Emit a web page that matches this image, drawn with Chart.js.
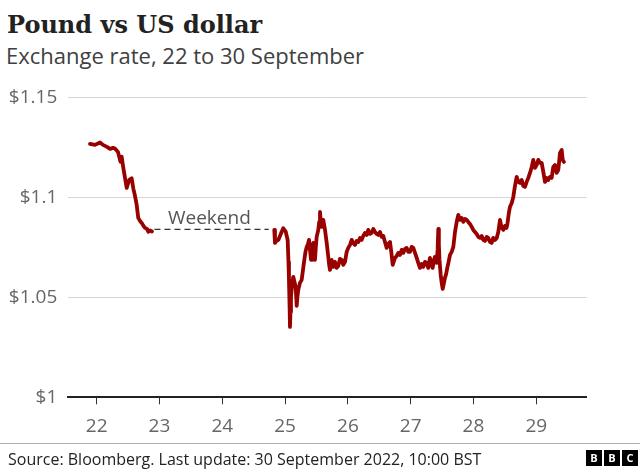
<!DOCTYPE html>
<html>
<head>
<meta charset="utf-8">
<script src="https://cdn.jsdelivr.net/npm/chart.js@4/dist/chart.umd.min.js"></script>
<style>
  html, body { margin: 0; padding: 0; background: #fff; }
  body { width: 640px; height: 470px; position: relative; overflow: hidden; }
  #title { position: absolute; left: 7px; top: 10px; font: bold 24px/30px "DejaVu Serif", serif; color: #222; white-space: nowrap; }
  #subtitle { position: absolute; left: 6px; top: 40px; font: 22px/30px "Open Sans", sans-serif; color: #404040; white-space: nowrap; }
  #chartWrap { position: absolute; left: 0; top: 0; width: 640px; height: 470px; }
  #sep { position: absolute; left: 0; top: 443px; width: 640px; height: 1px; background: #b0b0b0; }
  #source { position: absolute; left: 8px; top: 448px; font: 16px/22px "Open Sans", sans-serif; color: #222; white-space: nowrap; }
  #logo { position: absolute; left: 586px; top: 450px; display: flex; gap: 2px; }
  #logo span { width: 16px; height: 16px; background: #000; color: #fff; font: bold 11px/16px "Open Sans", sans-serif; text-align: center; }
</style>
</head>
<body>
<div id="title">Pound vs US dollar</div>
<div id="subtitle">Exchange rate, 22 to 30 September</div>
<div id="chartWrap"><canvas id="c" width="640" height="470"></canvas></div>
<div id="sep"></div>
<div id="source">Source: Bloomberg. Last update: 30 September 2022, 10:00 BST</div>
<div id="logo"><span>B</span><span>B</span><span>C</span></div>
<script>
// ---- data (day of September, US dollars per pound) ----
const fridayTimes = [21.893, 21.973, 22.053, 22.100, 22.164, 22.212, 22.260, 22.291, 22.339, 22.363, 22.379, 22.398, 22.424, 22.451, 22.478, 22.498, 22.519, 22.557, 22.583, 22.610, 22.637, 22.662, 22.690, 22.717, 22.745, 22.769, 22.801, 22.822, 22.849, 22.881];
const fridayRates = [1.1267, 1.1262, 1.1274, 1.1262, 1.1252, 1.1242, 1.1247, 1.1244, 1.1227, 1.1197, 1.1177, 1.1203, 1.1147, 1.1097, 1.1047, 1.1067, 1.1087, 1.1095, 1.1045, 1.1007, 1.0962, 1.0897, 1.0882, 1.0872, 1.0857, 1.0847, 1.0842, 1.0828, 1.0834, 1.0829];

const weekTimes = [24.828, 24.839, 24.863, 24.892, 24.919, 24.946, 24.971, 25.010, 25.041, 25.054, 25.062, 25.073, 25.078, 25.086, 25.094, 25.115, 25.131, 25.150, 25.169, 25.185, 25.198, 25.210, 25.237, 25.264, 25.285, 25.306, 25.325, 25.344, 25.365, 25.381, 25.397, 25.413, 25.428, 25.449, 25.464, 25.476, 25.492, 25.503, 25.529, 25.543, 25.556, 25.569, 25.583, 25.608, 25.636, 25.663, 25.688, 25.702, 25.715, 25.742, 25.768, 25.795, 25.819, 25.847, 25.874, 25.901, 25.927, 25.954,
  25.981, 26.006, 26.034, 26.061, 26.086, 26.113, 26.140, 26.166, 26.193, 26.220, 26.245, 26.272, 26.299, 26.325, 26.352, 26.379, 26.405, 26.432, 26.459, 26.484, 26.511, 26.538, 26.564, 26.591, 26.618, 26.643, 26.671, 26.691, 26.714, 26.750, 26.777, 26.803, 26.830, 26.857, 26.882, 26.909, 26.936, 26.962, 26.989, 27.016, 27.042, 27.069, 27.096, 27.121, 27.148, 27.175, 27.201, 27.228, 27.255, 27.280, 27.307, 27.328, 27.350, 27.371, 27.387, 27.414, 27.429, 27.440, 27.449, 27.459, 27.478, 27.494, 27.510, 27.530, 27.546, 27.565, 27.583, 27.604, 27.626, 27.653, 27.679, 27.706, 27.733, 27.758, 27.785, 27.812, 27.838, 27.865, 27.892, 27.917, 27.944, 27.972, 27.997, 28.024, 28.051, 28.077, 28.104, 28.131, 28.156, 28.183, 28.210, 28.236, 28.263, 28.290, 28.315, 28.343, 28.370, 28.395, 28.422, 28.449, 28.475, 28.502, 28.526, 28.538, 28.561, 28.581, 28.609, 28.634, 28.661, 28.688, 28.714, 28.741, 28.768, 28.793, 28.820, 28.847, 28.873, 28.900, 28.927, 28.952, 28.980, 29.007, 29.032, 29.059, 29.086, 29.112, 29.139, 29.166, 29.191, 29.218, 29.245, 29.271, 29.298, 29.325, 29.351, 29.378, 29.405, 29.421, 29.441];
const weekRates = [1.0837, 1.0772, 1.0782, 1.0787, 1.0807, 1.0828, 1.0845, 1.0828, 1.0787, 1.0677, 1.0587, 1.0437, 1.0352, 1.0427, 1.0502, 1.0572, 1.0602, 1.0577, 1.0552, 1.0457, 1.0507, 1.0537, 1.0572, 1.0587, 1.0637, 1.0687, 1.0727, 1.0752, 1.0767, 1.0787, 1.0737, 1.0687, 1.0737, 1.0772, 1.0727, 1.0687, 1.0762, 1.0802, 1.0837, 1.0877, 1.0927, 1.0877, 1.0852, 1.0887, 1.0837, 1.0772, 1.0702, 1.0662, 1.0637, 1.0687, 1.0652, 1.0677, 1.0647, 1.0657, 1.0692, 1.0687, 1.0662, 1.0677,
  1.0727, 1.0747, 1.0762, 1.0787, 1.0772, 1.0762, 1.0782, 1.0777, 1.0797, 1.0787, 1.0807, 1.0822, 1.0812, 1.0837, 1.0817, 1.0822, 1.0842, 1.0827, 1.0817, 1.0812, 1.0827, 1.0802, 1.0807, 1.0777, 1.0747, 1.0767, 1.0777, 1.0727, 1.0662, 1.0697, 1.0707, 1.0722, 1.0712, 1.0737, 1.0722, 1.0742, 1.0747, 1.0727, 1.0727, 1.0752, 1.0747, 1.0722, 1.0697, 1.0672, 1.0647, 1.0667, 1.0652, 1.0677, 1.0672, 1.0647, 1.0697, 1.0667, 1.0647, 1.0687, 1.0702, 1.0672, 1.0737, 1.0842, 1.0762, 1.0687, 1.0612, 1.0572, 1.0542, 1.0572, 1.0597, 1.0617, 1.0647, 1.0677, 1.0712, 1.0727, 1.0752, 1.0827, 1.0877, 1.0912, 1.0887, 1.0897, 1.0877, 1.0892, 1.0887, 1.0877, 1.0867, 1.0852, 1.0837, 1.0827, 1.0817, 1.0802, 1.0797, 1.0807, 1.0787, 1.0782, 1.0802, 1.0797, 1.0777, 1.0772, 1.0797, 1.0787, 1.0797, 1.0827, 1.0887, 1.0847, 1.0837, 1.0857, 1.0847, 1.0862, 1.0917, 1.0952, 1.0972, 1.1002, 1.1057, 1.1102, 1.1077, 1.1072, 1.1087, 1.1057, 1.1052, 1.1077, 1.1097, 1.1122, 1.1152, 1.1187, 1.1147, 1.1162, 1.1187, 1.1172, 1.1172, 1.1127, 1.1077, 1.1097, 1.1087, 1.1102, 1.1097, 1.1152, 1.1162, 1.1122, 1.1137, 1.1222, 1.1237, 1.1187, 1.1177];

const weekendTimes = [22.92, 24.74];
const weekendRates = [1.084, 1.084];
const weekendLabel = 'Weekend';
const weekendLabelAt = [23.135, 1.0866];

const dayTicks = [22, 23, 24, 25, 26, 27, 28, 29];
const rateTicks = [1, 1.05, 1.1, 1.15];

// ---- build ----
const zip = (xs, ys) => xs.map((x, i) => ({ x: x, y: ys[i] }));
const mainLine = zip(fridayTimes, fridayRates).concat([{ x: 23.8, y: null }], zip(weekTimes, weekRates));

const labelPlugin = {
  id: 'weekendLabel',
  afterDatasetsDraw(chart) {
    const ctx = chart.ctx;
    const xs = chart.scales.x, ys = chart.scales.y;
    ctx.save();
    ctx.font = '19px "Open Sans", sans-serif';
    ctx.fillStyle = '#555';
    ctx.textAlign = 'left';
    ctx.textBaseline = 'alphabetic';
    ctx.fillText(weekendLabel, xs.getPixelForValue(weekendLabelAt[0]), ys.getPixelForValue(weekendLabelAt[1]));
    ctx.restore();
  }
};

new Chart(document.getElementById('c'), {
  type: 'line',
  data: {
    datasets: [
      {
        data: mainLine,
        borderColor: '#990000',
        borderWidth: 3.8,
        pointRadius: 0,
        tension: 0,
        spanGaps: false,
        borderJoinStyle: 'round',
        borderCapStyle: 'round'
      },
      {
        data: zip(weekendTimes, weekendRates),
        borderColor: '#333',
        borderWidth: 1.3,
        borderDash: [6, 4],
        pointRadius: 0
      }
    ]
  },
  plugins: [labelPlugin],
  options: {
    responsive: false,
    animation: false,
    events: [],
    layout: { padding: { top: 97.3, left: 0, right: 53.3, bottom: 27.7 } },
    plugins: { legend: { display: false }, tooltip: { enabled: false } },
    scales: {
      x: {
        type: 'linear',
        min: 21.548,
        max: 29.803,
        afterBuildTicks: s => { s.ticks = dayTicks.map(v => ({ value: v })); },
        afterFit: s => { s.height = 45; },
        ticks: {
          color: '#666',
          font: { family: 'Open Sans', size: 19 },
          padding: 11,
          autoSkip: false,
          maxRotation: 0,
          callback: v => String(v)
        },
        grid: { drawOnChartArea: false, drawTicks: true, tickLength: 7, color: '#333', lineWidth: 1 },
        border: { display: true, color: '#222', width: 2 }
      },
      y: {
        min: 1,
        max: 1.15,
        afterBuildTicks: s => { s.ticks = rateTicks.map(v => ({ value: v })); },
        afterFit: s => { s.width = 68.3; },
        ticks: {
          color: '#666',
          font: { family: 'Open Sans', size: 19 },
          padding: 11,
          callback: v => '$' + (+v.toFixed(2))
        },
        grid: { drawTicks: false, color: '#d6d6d6', lineWidth: 1 },
        border: { display: false }
      }
    }
  }
});
</script>
</body>
</html>
